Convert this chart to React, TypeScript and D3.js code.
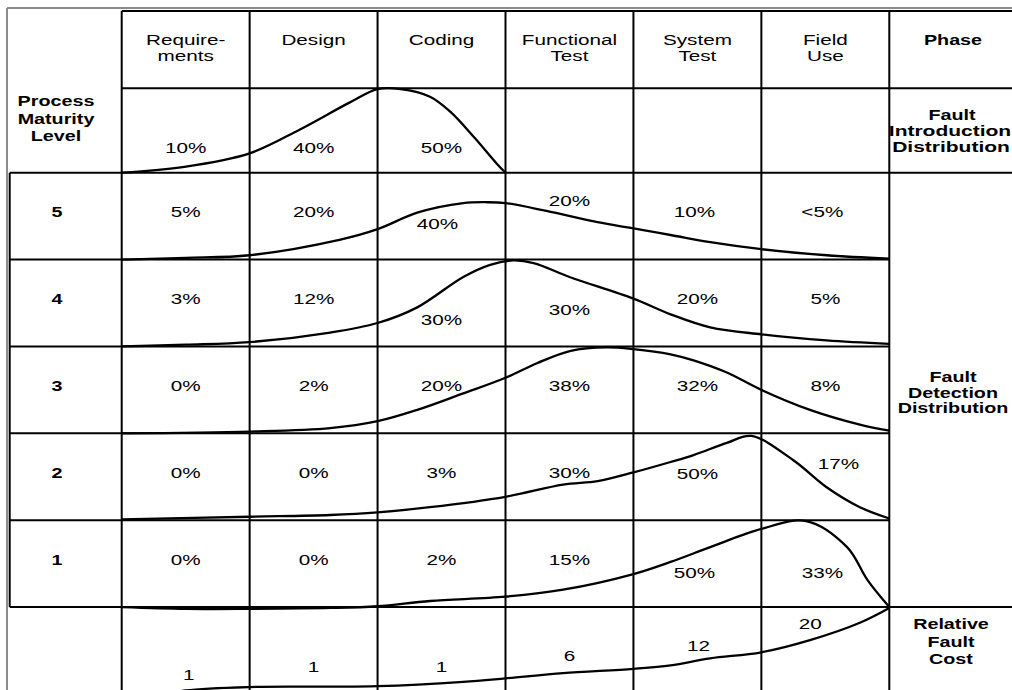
import React, { useRef, useEffect } from 'react';
import * as d3 from 'd3';

// column headings (one entry per text line)
const phases: string[][] = [
    ["Require-", "ments"], ["Design"], ["Coding"],
    ["Functional", "Test"], ["System", "Test"], ["Field", "Use"],
];
const maturityLevels = ["5", "4", "3", "2", "1"];

const introLabels = ["10%", "40%", "50%", "", "", ""];
const detectionLabels: string[][] = [
    ["5%", "20%", "40%", "20%", "10%", "<5%"],
    ["3%", "12%", "30%", "30%", "20%", "5%"],
    ["0%", "2%", "20%", "38%", "32%", "8%"],
    ["0%", "0%", "3%", "30%", "50%", "17%"],
    ["0%", "0%", "2%", "15%", "50%", "33%"],
];
const costLabels = ["1", "1", "1", "6", "12", "20"];

// curve profiles: [phase position (0..6), share of row height]
const introCurve: [number, number][] = [
    [0, 0], [0.49, 0.07], [1, 0.23], [1.39, 0.51], [1.78, 0.83], [2, 0.99],
    [2.18, 0.99], [2.41, 0.9], [2.57, 0.72], [2.76, 0.41], [2.93, 0.11], [3, 0],
];
const detectionCurves: [number, number][][] = [
    [[0, 0], [0.5, 0.02], [1, 0.05], [1.71, 0.23], [2, 0.35], [2.31, 0.54], [2.67, 0.65], [2.86, 0.66],
     [3, 0.65], [3.32, 0.56], [3.72, 0.43], [4, 0.36], [4.3, 0.28], [4.6, 0.2], [5, 0.12], [5.51, 0.05], [6, 0.01]],
    [[0, 0], [0.5, 0.02], [1, 0.05], [1.63, 0.16], [2, 0.27], [2.31, 0.45], [2.67, 0.8], [2.88, 0.94],
     [3.06, 0.99], [3.22, 0.96], [3.5, 0.8], [4, 0.55], [4.29, 0.37], [4.6, 0.22], [5, 0.14], [5.51, 0.07], [6, 0.03]],
    [[0, 0], [1, 0.02], [1.63, 0.06], [2, 0.14], [2.31, 0.27], [2.67, 0.46], [3, 0.64], [3.25, 0.81],
     [3.51, 0.95], [3.79, 0.99], [4, 0.97], [4.29, 0.91], [4.47, 0.84], [4.73, 0.7], [5, 0.5],
     [5.38, 0.27], [5.77, 0.1], [6, 0.03]],
    [[0, 0.01], [1, 0.04], [1.63, 0.06], [2, 0.09], [2.41, 0.15], [3, 0.27], [3.45, 0.41], [3.72, 0.45],
     [4, 0.55], [4.29, 0.67], [4.47, 0.75], [4.73, 0.89], [4.92, 0.97], [5.25, 0.69],
     [5.51, 0.38], [5.77, 0.15], [6, 0.02]],
    [[0, 0], [0.5, -0.02], [1, -0.02], [1.63, -0.01], [2, 0.01], [2.41, 0.07], [3, 0.12], [3.45, 0.2],
     [4, 0.38], [4.29, 0.52], [4.6, 0.69], [5, 0.9], [5.35, 0.99], [5.67, 0.69],
     [5.83, 0.31], [6, 0]],
];
const costCurve: [number, number][] = [
    [0.3, -0.02], [0.5, 0.04], [1, 0.08], [1.63, 0.084], [2, 0.09], [2.67, 0.14], [3, 0.18],
    [3.45, 0.24], [4, 0.29], [4.29, 0.33], [4.6, 0.41], [5, 0.48], [5.38, 0.62], [5.77, 0.82], [6, 0.99],
];

// label nudges (px) where the original moves text clear of the curve
const detectionShiftY = [
    [0, 0, 12, -11, 0, 0],
    [0, 0, 21, 11, 0, 0],
    [0, 0, 0, 0, 0, 0],
    [0, 0, 0, 0, 1, -9],
    [0, 0, 0, 0, 13, 13],
];
const detectionShiftX = [
    [0, 0, -4, 0, -3, -3],
    [0, 0, 0, 0, 0, 0],
    [0, 0, 0, 0, 0, 0],
    [0, 0, 0, 0, 0, 13],
    [0, 0, 0, 0, -3, -3],
];
const costBaseline = [73, 65, 65, 54, 44, 22];
const costShiftX = [3, 0, 0, 0, 1, -15];

const W = 1012;
const H = 690;
const FONT = "'Liberation Sans', Arial, Helvetica, sans-serif";

export default function App() {
    const svgRef = useRef<SVGSVGElement>(null);

    useEffect(() => {
        if (!svgRef.current) return;
        const svg = d3.select(svgRef.current);
        svg.selectAll("*").remove();

        const x = d3.scaleLinear().domain([0, 6]).range([121.7, 889.3]);
        const rowEdge = d3.scaleLinear().domain([0, 5]).range([172.7, 607.1]);
        const top = 11, headBottom = 88.3, rightEdge = W;
        const rowH = rowEdge(1) - rowEdge(0);
        const colMid = (i: number) => x(i + 0.5);

        const line = (x1: number, y1: number, x2: number, y2: number, color = "#000", w = 2) =>
            svg.append("line").attr("x1", x1).attr("y1", y1).attr("x2", x2).attr("y2", y2)
                .attr("stroke", color).attr("stroke-width", w);

        const put = (txt: string, tx: number, ty: number, bold = false, sx?: number) =>
            svg.append("text")
                .attr("transform", `translate(${tx},${ty}) scale(${sx ?? (bold ? 1.41 : 1.38)},1)`)
                .attr("text-anchor", "middle")
                .attr("font-family", FONT)
                .attr("font-size", bold ? 14 : 15)
                .attr("font-weight", bold ? "bold" : "normal")
                .attr("fill", "#000")
                .text(txt);

        // outer grey frame
        line(7, 8, W, 8, "#8c8c8c", 2);
        line(7, 8, 7, H, "#8c8c8c", 2);

        // grid
        line(x(0), top, rightEdge, top);
        line(x(0), headBottom, rightEdge, headBottom);
        line(9.7, rowEdge(0), rightEdge, rowEdge(0));
        d3.range(1, 5).forEach(i => line(9.7, rowEdge(i), x(6), rowEdge(i)));
        line(9.7, rowEdge(5), rightEdge, rowEdge(5));
        line(9.7, rowEdge(0), 9.7, rowEdge(5));
        d3.range(0, 7).forEach(i => line(x(i), top, x(i), H));

        // curves
        const drawCurve = (pts: [number, number][], rowTop: number, rowBottom: number) => {
            const y = d3.scaleLinear().domain([0, 1]).range([rowBottom, rowTop]);
            const gen = d3.line<[number, number]>()
                .x(d => x(d[0]))
                .y(d => y(d[1]))
                .curve(d3.curveCatmullRom.alpha(0.5));
            svg.append("path").attr("d", gen(pts)).attr("fill", "none")
                .attr("stroke", "#000").attr("stroke-width", 2.3);
        };
        drawCurve(introCurve, headBottom, rowEdge(0));
        detectionCurves.forEach((c, i) => drawCurve(c, rowEdge(i), rowEdge(i + 1)));
        drawCurve(costCurve, rowEdge(5), rowEdge(5) + rowH);

        // header
        phases.forEach((lines, i) => lines.forEach((t, k) => put(t, colMid(i), 45 + k * 16)));
        put("Phase", 953, 45, true);

        // left column
        ["Process", "Maturity", "Level"].forEach((t, k) => put(t, 56, 106 + k * 17.5, true));
        maturityLevels.forEach((t, i) => put(t, 57, (rowEdge(i) + rowEdge(i + 1)) / 2 + 1, true));

        // fault introduction
        introLabels.forEach((t, i) => { if (t) put(t, colMid(i), rowEdge(0) - 20); });
        put("Fault", 952, 120, true);
        put("Introduction", 950, 136, true, 1.5);
        put("Distribution", 951, 152, true, 1.5);

        // fault detection
        detectionLabels.forEach((row, r) => row.forEach((t, i) => {
            const mid = (rowEdge(r) + rowEdge(r + 1)) / 2;
            put(t, colMid(i) + detectionShiftX[r][i], mid + 1 + detectionShiftY[r][i]);
        }));
        ["Fault", "Detection", "Distribution"].forEach((t, k) => put(t, 953, 382 + k * 15.5, true));

        // relative cost
        costLabels.forEach((t, i) => put(t, colMid(i) + costShiftX[i], rowEdge(5) + costBaseline[i]));
        ["Relative", "Fault", "Cost"].forEach((t, k) => put(t, 951, 629 + k * 17.5, true));
    }, []);

    return (
        <svg
            ref={svgRef}
            width={W}
            height={H}
            style={{ position: "absolute", left: 0, top: 0, background: "#fff" }}
        />
    );
}
